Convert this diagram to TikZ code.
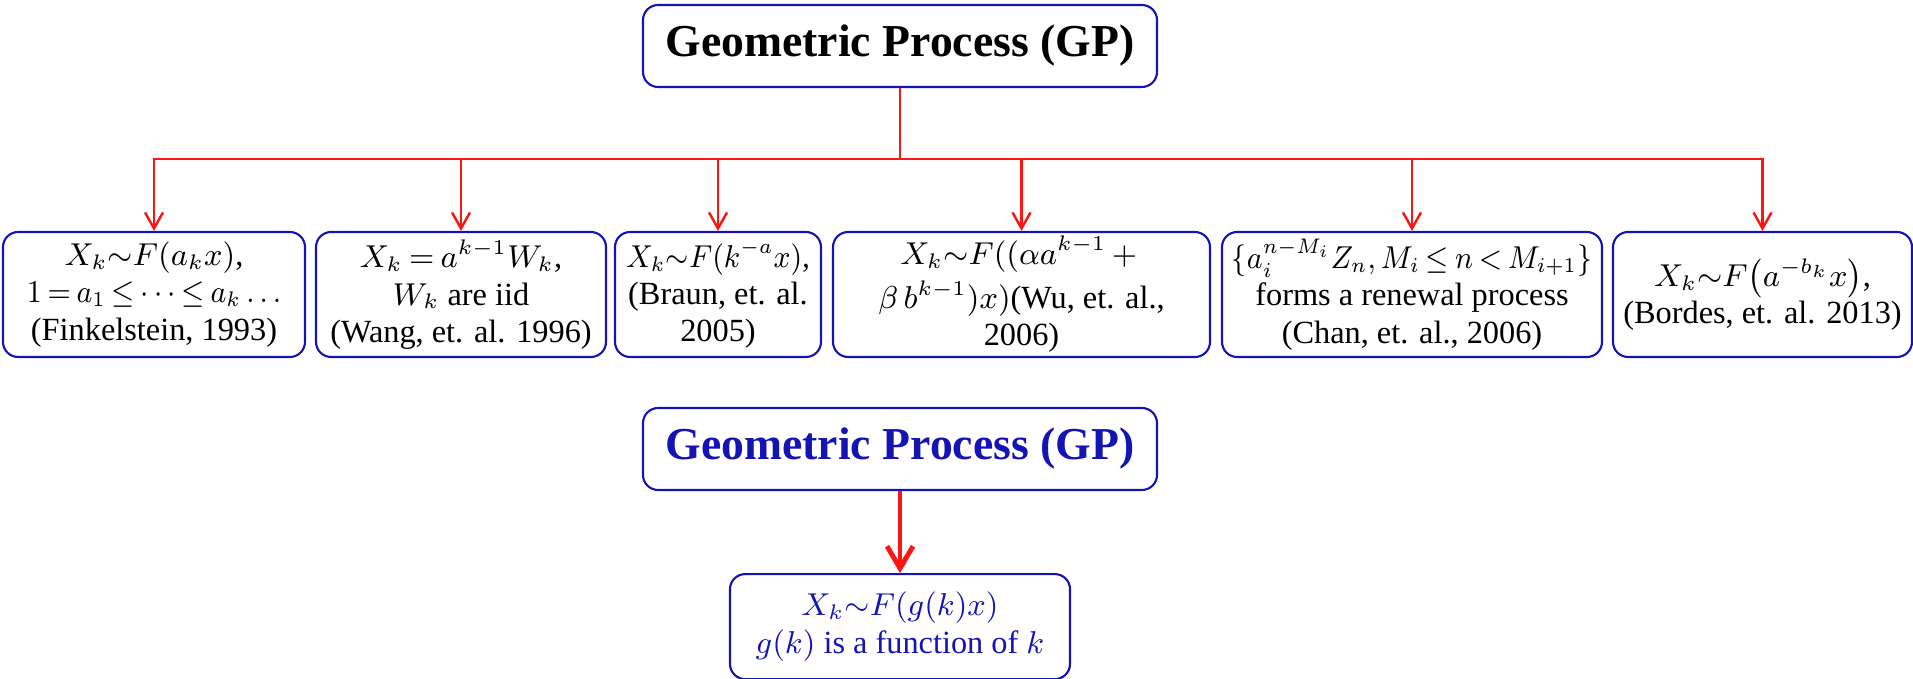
\documentclass[tikz,border=0pt]{standalone}
\usepackage{amsmath,amssymb}
\usepackage{fontspec}
\setmainfont{Liberation Serif}
\usetikzlibrary{arrows.meta,positioning}
\definecolor{boxblue}{HTML}{1414B4}
\definecolor{linkred}{HTML}{FF1414}
\thickmuskip=3.5mu plus 2mu
\medmuskip=3mu plus 1mu
\newcommand{\narrow}[1]{\scalebox{0.92}[1]{#1}}

\begin{document}
\begin{tikzpicture}[
  box/.style={draw=boxblue, line width=0.6pt, rounded corners=4.3pt,
              inner sep=0pt, minimum height=1.25cm,
              align=center, font=\fontsize{9.2}{10.6}\selectfont},
  title/.style={box, minimum width=5.14cm, minimum height=0.82cm,
                font=\fontsize{13}{15}\selectfont\bfseries},
  link/.style={draw=linkred, line width=0.7pt},
  arrow/.style={link, -{Straight Barb[length=1.6mm, width=1.8mm]}},
  bigarrow/.style={draw=linkred, line width=1.4pt,
                   -{Straight Barb[length=2.2mm, width=2.6mm]}}
]
  \useasboundingbox (0,0) rectangle (19.13,-6.79);

  % top of the tree
  \node[title] (gp) at (9.00,-0.46) {Geometric Process (GP)};

  % the six variants
  \node[box, minimum width=3.02cm] (r1) at (1.54,-2.945)
    {$X_k{\sim}F(a_kx)$,\\ \narrow{$1=a_1\leq\cdots\leq a_k\,{\ldots}$}\\ (Finkelstein, 1993)};
  \node[box, minimum width=2.90cm] (r2) at (4.61,-2.945)
    {$X_k=a^{k-1}W_k$,\\ $W_k$ are iid\\ (Wang, et. al. 1996)};
  \node[box, minimum width=2.06cm] (r3) at (7.18,-2.945)
    {\narrow{$X_k{\sim}F(k^{-a}x)$,}\\ (Braun, et. al.\\ 2005)};
  \node[box, minimum width=3.77cm] (r4) at (10.215,-2.945)
    {$X_k{\sim}F((\alpha a^{k-1}+{}$\\[2pt] $\beta\,b^{k-1})x)$(Wu, et. al.,\\ 2006)};
  \node[box, minimum width=3.80cm] (r5) at (14.12,-2.945)
    {\narrow{$\{a_i^{n-M_i}Z_n, M_i\leq n<M_{i+1}\}$}\\ forms a renewal process\\ (Chan, et. al., 2006)};
  \node[box, minimum width=2.99cm] (r6) at (17.625,-2.945)
    {$X_k{\sim}F\bigl(a^{-b_k}x\bigr)$,\\ (Bordes, et. al. 2013)};

  \coordinate[below=0.71cm of gp] (split);
  \draw[link] (gp) -- (split);
  \foreach \n in {1,...,6}
    \draw[arrow] (split) -| (r\n);

  % generalised form
  \node[title, text=boxblue] (gp2) at (9.00,-4.49) {Geometric Process (GP)};
  \node[box, text=boxblue, minimum width=3.40cm, minimum height=1.05cm,
        below=0.82cm of gp2] (gk)
    {$X_k{\sim}F(g(k)x)$\\ $g(k)$ is a function of $k$};
  \draw[bigarrow] (gp2) -- (gk);
\end{tikzpicture}
\end{document}
